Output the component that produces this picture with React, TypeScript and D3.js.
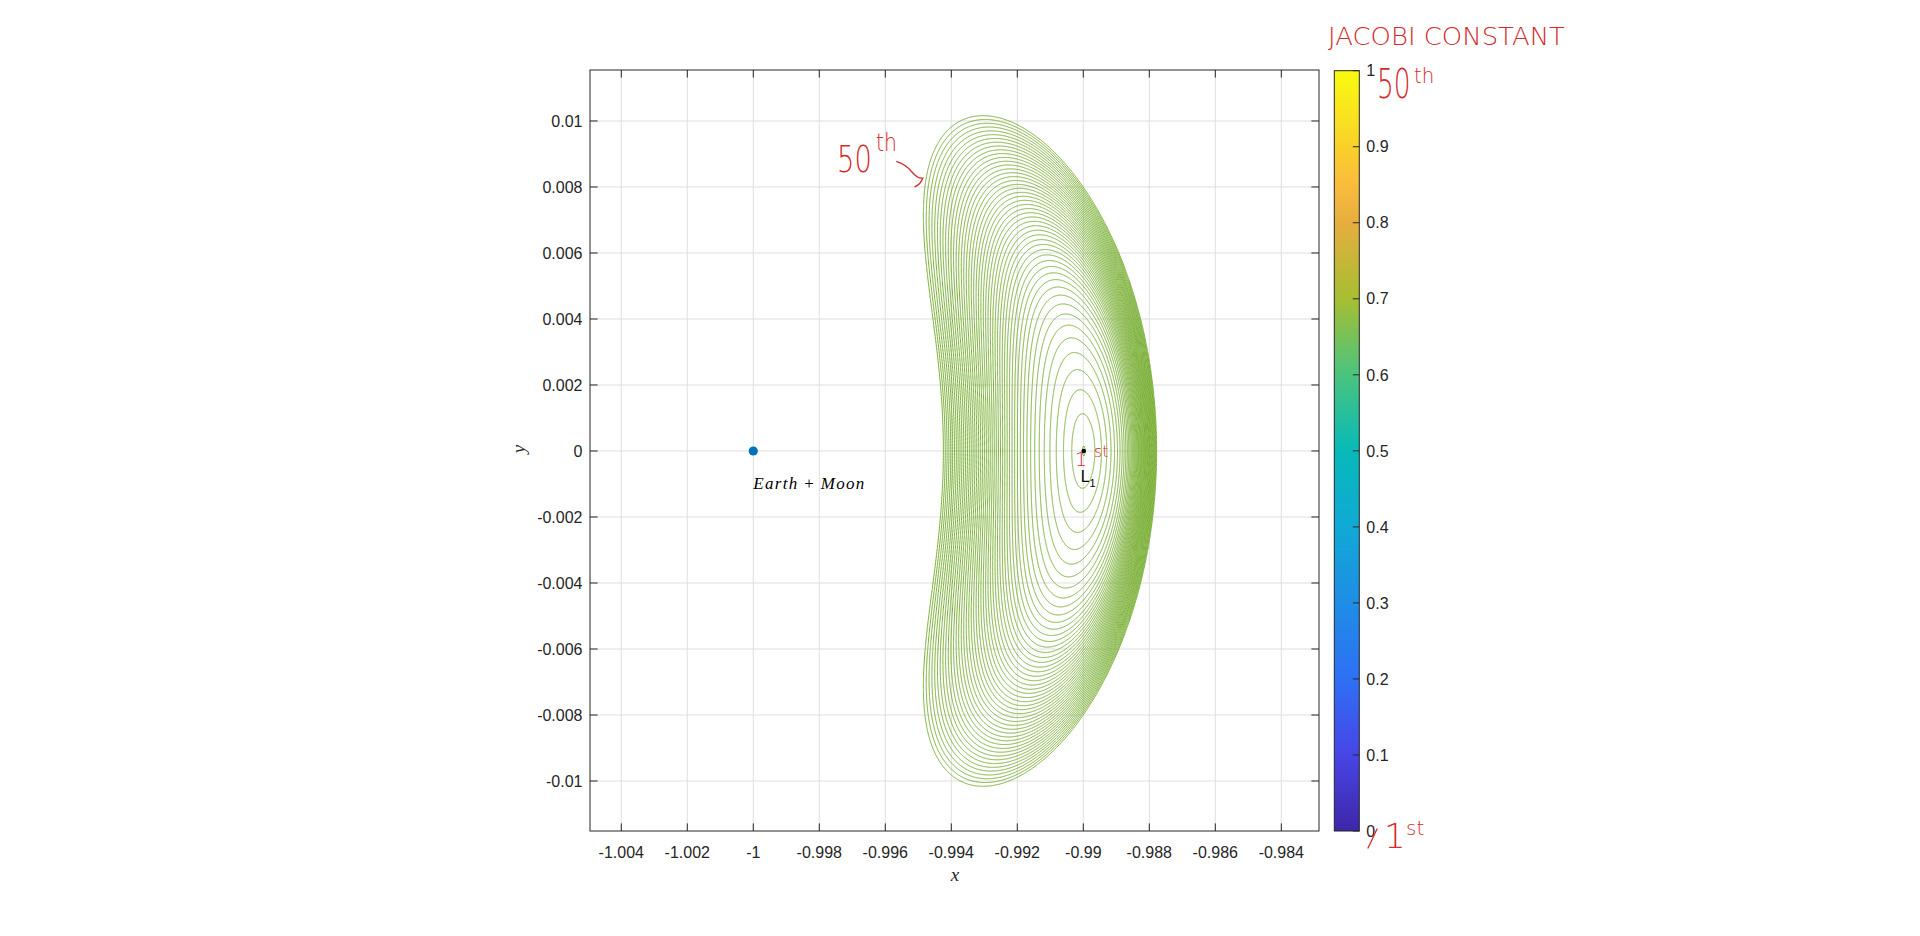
import React from 'react'
import * as d3 from 'd3'

// ---------- values ----------
const xTicks = [-1.004, -1.002, -1, -0.998, -0.996, -0.994, -0.992, -0.99, -0.988, -0.986, -0.984]
const xTickLabels = ['-1.004', '-1.002', '-1', '-0.998', '-0.996', '-0.994', '-0.992', '-0.99', '-0.988', '-0.986', '-0.984']
const yTicks = [-0.01, -0.008, -0.006, -0.004, -0.002, 0, 0.002, 0.004, 0.006, 0.008, 0.01]
const yTickLabels = ['-0.01', '-0.008', '-0.006', '-0.004', '-0.002', '0', '0.002', '0.004', '0.006', '0.008', '0.01']
const cbTicks = [0, 0.1, 0.2, 0.3, 0.4, 0.5, 0.6, 0.7, 0.8, 0.9, 1]
const cbTickLabels = ['0', '0.1', '0.2', '0.3', '0.4', '0.5', '0.6', '0.7', '0.8', '0.9', '1']
const xDomain = [-1.004948, -0.982858]
const yDomain = [-0.011515, 0.011545]

// parula colormap (colorbar)
const parulaPos = [0, 0.1, 0.2, 0.3, 0.4, 0.5, 0.6, 0.7, 0.8, 0.85, 0.9, 1]
const parulaColors = ['#3e26a8', '#4745e6', '#2e70f5', '#1f8de6', '#10a9d6', '#07bab9', '#4ac47e', '#a6be32', '#e6ae3e', '#fbbb3c', '#f9d12a', '#f9fb0e']

// Earth-side x crossing of each Lyapunov orbit around L1, 1st ... 50th
const orbitStartX = [
  -0.99003, -0.99035, -0.990601, -0.99082, -0.991013, -0.991184, -0.991336, -0.991472, -0.991596, -0.991708,
  -0.991811, -0.991907, -0.991996, -0.99208, -0.992159, -0.992235, -0.992307, -0.992377, -0.992443, -0.992509,
  -0.992573, -0.992636, -0.992698, -0.992759, -0.992819, -0.992878, -0.992937, -0.992996, -0.993054, -0.993111,
  -0.993169, -0.993226, -0.993283, -0.99334, -0.993397, -0.993453, -0.99351, -0.993566, -0.993622, -0.993679,
  -0.993735, -0.993791, -0.993847, -0.993903, -0.993959, -0.994015, -0.994072, -0.994128, -0.994184, -0.99424,
]

const earthMoon = { x: -1, y: 0 }
const earthLabel = { x: -1, y: -0.001 }
const l1Label = { x: -0.99008, y: -0.00093 }

// Sun - (Earth+Moon) mass ratio
const MU = 3.040423e-6

// ---------- CR3BP, rotating frame ----------
function accel(s: number[]) {
  const [x, y, vx, vy] = s
  const dx1 = x + MU
  const dx2 = x - 1 + MU
  const r1 = Math.sqrt(dx1 * dx1 + y * y)
  const r2 = Math.sqrt(dx2 * dx2 + y * y)
  const k1 = (1 - MU) / (r1 * r1 * r1)
  const k2 = MU / (r2 * r2 * r2)
  return [vx, vy, 2 * vy + x - k1 * dx1 - k2 * dx2, -2 * vx + y - k1 * y - k2 * y]
}

function rk4(s: number[], h: number) {
  const a = accel(s)
  const b = accel(s.map((v, i) => v + (h / 2) * a[i]))
  const c = accel(s.map((v, i) => v + (h / 2) * b[i]))
  const d = accel(s.map((v, i) => v + h * c[i]))
  return s.map((v, i) => v + (h / 6) * (a[i] + 2 * b[i] + 2 * c[i] + d[i]))
}

function findL1() {
  const f = (x: number) => x - (1 - MU) / ((x + MU) * (x + MU)) + MU / ((x - 1 + MU) * (x - 1 + MU))
  let lo = 0.95
  let hi = 1 - MU - 1e-6
  for (let i = 0; i < 200; i++) {
    const mid = (lo + hi) / 2
    if (f(mid) < 0) lo = mid
    else hi = mid
  }
  return (lo + hi) / 2
}

const xL1 = findL1()
const gam = 1 - MU - xL1
const c2 = MU / gam ** 3 + (1 - MU) / (1 - gam) ** 3
const om = Math.sqrt((2 - c2 + Math.sqrt(9 * c2 * c2 - 8 * c2)) / 2)
const kap = (om * om + 1 + 2 * c2) / (2 * om)

// integrate from the x-axis to the next x-axis crossing
function halfOrbit(x0: number, vy0: number, keep: boolean) {
  const h = 0.001
  let s = [x0, 0, 0, vy0]
  let t = 0
  const pts: number[][] = keep ? [[x0, 0]] : []
  for (let i = 0; i < 12000; i++) {
    const n = rk4(s, h)
    t += h
    if (t > 0.3 && s[1] < 0 && n[1] >= 0) {
      let c = s
      for (let k = 0; k < 3; k++) c = rk4(c, -c[1] / c[3])
      if (keep) pts.push([c[0], 0])
      return { vx: c[2], pts }
    }
    s = n
    if (keep && i % 2 === 1) pts.push([s[0], s[1]])
  }
  return { vx: NaN, pts }
}

// secant on vy0 so that vx = 0 at the half period
function correct(x0: number, guess: number) {
  let v0 = guess
  let f0 = halfOrbit(x0, v0, false).vx
  let v1 = guess * (1 + 1e-4)
  let f1 = halfOrbit(x0, v1, false).vx
  for (let it = 0; it < 60; it++) {
    if (Math.abs(f1) < 1e-13 || f1 === f0) break
    const v2 = v1 - (f1 * (v1 - v0)) / (f1 - f0)
    v0 = v1
    f0 = f1
    v1 = v2
    f1 = halfOrbit(x0, v1, false).vx
  }
  return v1
}

function buildOrbits() {
  const vys: number[] = []
  const loops: number[][][] = []
  orbitStartX.forEach((xp, i) => {
    const x0 = -xp
    let guess = -kap * om * (x0 - xL1)
    if (i >= 2) {
      const xa = -orbitStartX[i - 2]
      const xb = -orbitStartX[i - 1]
      guess = vys[i - 1] + ((vys[i - 1] - vys[i - 2]) * (x0 - xb)) / (xb - xa)
    }
    const vy0 = correct(x0, guess)
    vys.push(vy0)
    const half = halfOrbit(x0, vy0, true).pts
    const loop = half.concat(half.slice().reverse().map(([px, py]) => [px, -py]))
    // figure frame: Sun side to the right, Earth at x = -1
    loops.push(loop.map(([px, py]) => [-px, -py]))
  })
  return loops
}

const orbits = buildOrbits()
const l1Point = { x: -xL1, y: 0 }

// ---------- drawing ----------
const axisColor = '#262626'
const gridColor = '#dfdfdf'
const orbitColor = '#77ae30'
const red = '#d42b2b'
const sans = "'Liberation Sans', Arial, Helvetica, sans-serif"
const serif = "'Liberation Serif', 'Times New Roman', serif"
const hand = "'DejaVu Sans', sans-serif"

export default function App() {
  const left = 590
  const right = 1319
  const top = 70
  const bottom = 831
  const tick = 7.6

  const x = d3.scaleLinear().domain(xDomain).range([left, right])
  const y = d3.scaleLinear().domain(yDomain).range([bottom, top])

  const cbLeft = 1334.3
  const cbRight = 1359.3
  const cb = d3.scaleLinear().domain([0, 1]).range([bottom, 70.7])

  const line = d3
    .line<number[]>()
    .x((d) => x(d[0]))
    .y((d) => y(d[1]))

  return (
    <svg width={1920} height={936} style={{ position: 'absolute', left: 0, top: 0 }} fontFamily={sans}>
      <defs>
        <linearGradient id="parula" x1="0" y1="1" x2="0" y2="0">
          {parulaPos.map((p, i) => (
            <stop key={i} offset={p} stopColor={parulaColors[i]} />
          ))}
        </linearGradient>
      </defs>
      <rect width={1920} height={936} fill="#fff" />

      {/* grid */}
      {xTicks.map((t) => (
        <line key={'gx' + t} x1={x(t)} x2={x(t)} y1={top} y2={bottom} stroke={gridColor} strokeWidth={1} />
      ))}
      {yTicks.map((t) => (
        <line key={'gy' + t} x1={left} x2={right} y1={y(t)} y2={y(t)} stroke={gridColor} strokeWidth={1} />
      ))}

      {/* Lyapunov orbits */}
      {orbits.map((o, i) => (
        <path key={'o' + i} d={line(o) + 'Z'} fill="none" stroke={orbitColor} strokeWidth={1} />
      ))}

      {/* bodies */}
      <circle cx={x(earthMoon.x)} cy={y(earthMoon.y)} r={4.6} fill="#0072bd" />
      <circle cx={x(l1Point.x)} cy={y(l1Point.y)} r={2.3} fill="#000" />

      <text
        x={x(earthLabel.x)}
        y={y(earthLabel.y) + 5}
        fontFamily={serif}
        fontStyle="italic"
        fontSize={17}
        fill="#000"
        textLength={111}
        lengthAdjust="spacing"
      >
        Earth<tspan fontStyle="normal">{' + '}</tspan>Moon
      </text>
      <text x={x(l1Label.x)} y={y(l1Label.y)} fontSize={16} fill="#000">
        L
        <tspan fontSize={11} dy={5}>
          1
        </tspan>
      </text>

      {/* axes box and ticks */}
      <rect x={left} y={top} width={right - left} height={bottom - top} fill="none" stroke={axisColor} strokeWidth={1} />
      {xTicks.map((t) => (
        <g key={'tx' + t}>
          <line x1={x(t)} x2={x(t)} y1={bottom} y2={bottom - tick} stroke={axisColor} />
          <line x1={x(t)} x2={x(t)} y1={top} y2={top + tick} stroke={axisColor} />
        </g>
      ))}
      {yTicks.map((t) => (
        <g key={'ty' + t}>
          <line x1={left} x2={left + tick} y1={y(t)} y2={y(t)} stroke={axisColor} />
          <line x1={right} x2={right - tick} y1={y(t)} y2={y(t)} stroke={axisColor} />
        </g>
      ))}
      {xTicks.map((t, i) => (
        <text key={'lx' + t} x={x(t)} y={bottom + 26.5} textAnchor="middle" fontSize={16} fill={axisColor}>
          {xTickLabels[i]}
        </text>
      ))}
      {yTicks.map((t, i) => (
        <text key={'ly' + t} x={left - 7.5} y={y(t) + 5.7} textAnchor="end" fontSize={16} fill={axisColor}>
          {yTickLabels[i]}
        </text>
      ))}
      <text x={955} y={881} textAnchor="middle" fontFamily={serif} fontStyle="italic" fontSize={19} fill={axisColor}>
        x
      </text>
      <text
        transform="translate(525,449) rotate(-90)"
        textAnchor="middle"
        fontFamily={serif}
        fontStyle="italic"
        fontSize={19}
        fill={axisColor}
      >
        y
      </text>

      {/* colorbar */}
      <rect x={cbLeft} y={cb(1)} width={cbRight - cbLeft} height={cb(0) - cb(1)} fill="url(#parula)" stroke={axisColor} strokeWidth={1} />
      {cbTicks.map((t, i) => (
        <g key={'cb' + t}>
          <line x1={cbRight} x2={cbRight - 6.5} y1={cb(t)} y2={cb(t)} stroke={axisColor} />
          <text x={cbRight + 7} y={cb(t) + 5.7} fontSize={16} fill={axisColor}>
            {cbTickLabels[i]}
          </text>
        </g>
      ))}

      {/* hand-written notes */}
      <g fill={red} fontFamily={hand} fontWeight={200}>
        <text transform="translate(1328,45) scale(1.08,1)" fontSize={24}>
          JACOBI CONSTANT
        </text>
        <text transform="translate(1377,98) scale(0.66,1)" fontSize={40}>
          50
        </text>
        <text transform="translate(1414,83) scale(0.9,1)" fontSize={22}>
          th
        </text>
        <text transform="translate(837,172) scale(0.72,1)" fontSize={38}>
          50
        </text>
        <text transform="translate(876,151) scale(0.85,1)" fontSize={24}>
          th
        </text>
        <text x={1075} y={466} fontSize={19}>
          1
        </text>
        <text x={1094} y={457} fontSize={16}>
          st
        </text>
        <text x={1384} y={848} fontSize={34}>
          1
        </text>
        <text x={1406} y={835} fontSize={20}>
          st
        </text>
      </g>
      <g fill="none" stroke={red} strokeWidth={1.3} strokeLinecap="round">
        <path d="M896.7,161.7 Q905,164 911.7,171.7 T922.7,178 Q921,184 915,186.7" />
        <path d="M1377,829 Q1372,840 1368,848" />
      </g>
    </svg>
  )
}
